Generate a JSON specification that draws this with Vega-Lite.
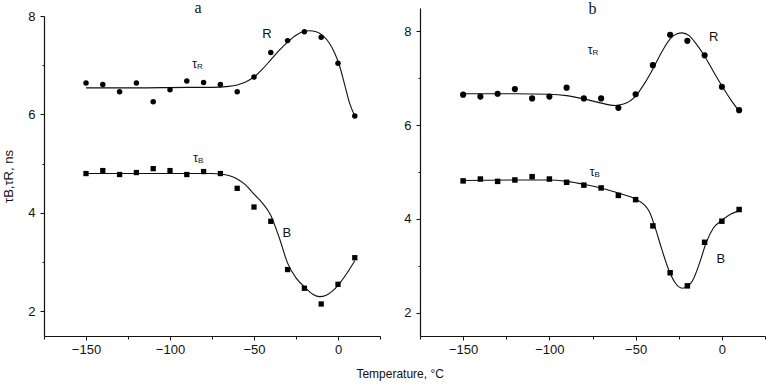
{
  "$schema": "https://vega.github.io/schema/vega-lite/v6.json",
  "padding": {"left": 2, "top": 0, "right": 5, "bottom": 2},
  "background": "white",
  "spacing": 22,
  "config": {
    "view": {"stroke": null},
    "font": "Liberation Sans",
    "axis": {
      "grid": false,
      "domainColor": "#111",
      "domainWidth": 1.2,
      "tickColor": "#111",
      "tickWidth": 1,
      "labelColor": "#111",
      "labelFont": "Liberation Sans",
      "labelFontSize": 13,
      "titleFont": "Liberation Sans",
      "titleFontWeight": "normal",
      "titleColor": "#111",
      "titleFontSize": 12
    },
    "title": {"font": "Liberation Serif", "fontSize": 16, "fontWeight": "normal", "color": "#111"}
  },
  "title": {"text": "Temperature, °C", "orient": "bottom", "anchor": "middle", "offset": 13, "dx": 16, "font": "Liberation Sans", "fontSize": 12, "fontWeight": "normal", "color": "#111"},
  "datasets": {
    "points": [
      {"panel": "a", "series": "R", "T": -150, "v": 6.64},
      {"panel": "a", "series": "R", "T": -140, "v": 6.61},
      {"panel": "a", "series": "R", "T": -130, "v": 6.46},
      {"panel": "a", "series": "R", "T": -120, "v": 6.64},
      {"panel": "a", "series": "R", "T": -110, "v": 6.26},
      {"panel": "a", "series": "R", "T": -100, "v": 6.5},
      {"panel": "a", "series": "R", "T": -90, "v": 6.68},
      {"panel": "a", "series": "R", "T": -80, "v": 6.65},
      {"panel": "a", "series": "R", "T": -70, "v": 6.61},
      {"panel": "a", "series": "R", "T": -60, "v": 6.46},
      {"panel": "a", "series": "R", "T": -50, "v": 6.76},
      {"panel": "a", "series": "R", "T": -40, "v": 7.26},
      {"panel": "a", "series": "R", "T": -30, "v": 7.5},
      {"panel": "a", "series": "R", "T": -20, "v": 7.68},
      {"panel": "a", "series": "R", "T": -10, "v": 7.57},
      {"panel": "a", "series": "R", "T": 0, "v": 7.04},
      {"panel": "a", "series": "R", "T": 10, "v": 5.97},
      {"panel": "a", "series": "B", "T": -150, "v": 4.8},
      {"panel": "a", "series": "B", "T": -140, "v": 4.86},
      {"panel": "a", "series": "B", "T": -130, "v": 4.78},
      {"panel": "a", "series": "B", "T": -120, "v": 4.82},
      {"panel": "a", "series": "B", "T": -110, "v": 4.9},
      {"panel": "a", "series": "B", "T": -100, "v": 4.86},
      {"panel": "a", "series": "B", "T": -90, "v": 4.78},
      {"panel": "a", "series": "B", "T": -80, "v": 4.84},
      {"panel": "a", "series": "B", "T": -70, "v": 4.8},
      {"panel": "a", "series": "B", "T": -60, "v": 4.5},
      {"panel": "a", "series": "B", "T": -50, "v": 4.12},
      {"panel": "a", "series": "B", "T": -40, "v": 3.83},
      {"panel": "a", "series": "B", "T": -30, "v": 2.85},
      {"panel": "a", "series": "B", "T": -20, "v": 2.47},
      {"panel": "a", "series": "B", "T": -10, "v": 2.15},
      {"panel": "a", "series": "B", "T": 0, "v": 2.55},
      {"panel": "a", "series": "B", "T": 10, "v": 3.09},
      {"panel": "b", "series": "R", "T": -150, "v": 6.65},
      {"panel": "b", "series": "R", "T": -140, "v": 6.61},
      {"panel": "b", "series": "R", "T": -130, "v": 6.67},
      {"panel": "b", "series": "R", "T": -120, "v": 6.77},
      {"panel": "b", "series": "R", "T": -110, "v": 6.57},
      {"panel": "b", "series": "R", "T": -100, "v": 6.61},
      {"panel": "b", "series": "R", "T": -90, "v": 6.8},
      {"panel": "b", "series": "R", "T": -80, "v": 6.57},
      {"panel": "b", "series": "R", "T": -70, "v": 6.57},
      {"panel": "b", "series": "R", "T": -60, "v": 6.37},
      {"panel": "b", "series": "R", "T": -50, "v": 6.66},
      {"panel": "b", "series": "R", "T": -40, "v": 7.28},
      {"panel": "b", "series": "R", "T": -30, "v": 7.93},
      {"panel": "b", "series": "R", "T": -20, "v": 7.8},
      {"panel": "b", "series": "R", "T": -10, "v": 7.49},
      {"panel": "b", "series": "R", "T": 0, "v": 6.82},
      {"panel": "b", "series": "R", "T": 10, "v": 6.32},
      {"panel": "b", "series": "B", "T": -150, "v": 4.81},
      {"panel": "b", "series": "B", "T": -140, "v": 4.85},
      {"panel": "b", "series": "B", "T": -130, "v": 4.8},
      {"panel": "b", "series": "B", "T": -120, "v": 4.83},
      {"panel": "b", "series": "B", "T": -110, "v": 4.9},
      {"panel": "b", "series": "B", "T": -100, "v": 4.85},
      {"panel": "b", "series": "B", "T": -90, "v": 4.78},
      {"panel": "b", "series": "B", "T": -80, "v": 4.72},
      {"panel": "b", "series": "B", "T": -70, "v": 4.66},
      {"panel": "b", "series": "B", "T": -60, "v": 4.5},
      {"panel": "b", "series": "B", "T": -50, "v": 4.41},
      {"panel": "b", "series": "B", "T": -40, "v": 3.85},
      {"panel": "b", "series": "B", "T": -30, "v": 2.85},
      {"panel": "b", "series": "B", "T": -20, "v": 2.57},
      {"panel": "b", "series": "B", "T": -10, "v": 3.5},
      {"panel": "b", "series": "B", "T": 0, "v": 3.95},
      {"panel": "b", "series": "B", "T": 10, "v": 4.2}
    ],
    "curves": [
      {"panel": "a", "series": "R", "T": -150, "v": 6.54},
      {"panel": "a", "series": "R", "T": -120, "v": 6.54},
      {"panel": "a", "series": "R", "T": -90, "v": 6.55},
      {"panel": "a", "series": "R", "T": -75, "v": 6.55},
      {"panel": "a", "series": "R", "T": -65, "v": 6.57},
      {"panel": "a", "series": "R", "T": -60, "v": 6.6},
      {"panel": "a", "series": "R", "T": -55, "v": 6.66},
      {"panel": "a", "series": "R", "T": -50, "v": 6.76},
      {"panel": "a", "series": "R", "T": -45, "v": 6.92},
      {"panel": "a", "series": "R", "T": -40, "v": 7.11},
      {"panel": "a", "series": "R", "T": -35, "v": 7.3},
      {"panel": "a", "series": "R", "T": -30, "v": 7.47},
      {"panel": "a", "series": "R", "T": -25, "v": 7.61},
      {"panel": "a", "series": "R", "T": -20, "v": 7.69},
      {"panel": "a", "series": "R", "T": -17, "v": 7.7},
      {"panel": "a", "series": "R", "T": -13, "v": 7.68},
      {"panel": "a", "series": "R", "T": -9, "v": 7.6},
      {"panel": "a", "series": "R", "T": -5, "v": 7.44},
      {"panel": "a", "series": "R", "T": -2, "v": 7.25},
      {"panel": "a", "series": "R", "T": 1, "v": 6.98},
      {"panel": "a", "series": "R", "T": 4, "v": 6.6},
      {"panel": "a", "series": "R", "T": 7, "v": 6.22},
      {"panel": "a", "series": "R", "T": 10, "v": 5.97},
      {"panel": "a", "series": "B", "T": -150, "v": 4.8},
      {"panel": "a", "series": "B", "T": -120, "v": 4.8},
      {"panel": "a", "series": "B", "T": -90, "v": 4.8},
      {"panel": "a", "series": "B", "T": -75, "v": 4.8},
      {"panel": "a", "series": "B", "T": -70, "v": 4.79},
      {"panel": "a", "series": "B", "T": -65, "v": 4.76},
      {"panel": "a", "series": "B", "T": -60, "v": 4.69},
      {"panel": "a", "series": "B", "T": -55, "v": 4.57},
      {"panel": "a", "series": "B", "T": -50, "v": 4.38},
      {"panel": "a", "series": "B", "T": -45, "v": 4.2},
      {"panel": "a", "series": "B", "T": -40, "v": 3.95},
      {"panel": "a", "series": "B", "T": -35, "v": 3.5},
      {"panel": "a", "series": "B", "T": -30, "v": 2.98},
      {"panel": "a", "series": "B", "T": -25, "v": 2.68},
      {"panel": "a", "series": "B", "T": -20, "v": 2.5},
      {"panel": "a", "series": "B", "T": -15, "v": 2.35},
      {"panel": "a", "series": "B", "T": -11, "v": 2.3},
      {"panel": "a", "series": "B", "T": -7, "v": 2.33},
      {"panel": "a", "series": "B", "T": -3, "v": 2.42},
      {"panel": "a", "series": "B", "T": 0, "v": 2.53},
      {"panel": "a", "series": "B", "T": 5, "v": 2.76},
      {"panel": "a", "series": "B", "T": 10, "v": 3.03},
      {"panel": "b", "series": "R", "T": -150, "v": 6.67},
      {"panel": "b", "series": "R", "T": -120, "v": 6.67},
      {"panel": "b", "series": "R", "T": -100, "v": 6.66},
      {"panel": "b", "series": "R", "T": -90, "v": 6.63},
      {"panel": "b", "series": "R", "T": -80, "v": 6.56},
      {"panel": "b", "series": "R", "T": -70, "v": 6.47},
      {"panel": "b", "series": "R", "T": -62, "v": 6.42},
      {"panel": "b", "series": "R", "T": -57, "v": 6.45},
      {"panel": "b", "series": "R", "T": -50, "v": 6.62},
      {"panel": "b", "series": "R", "T": -45, "v": 6.88},
      {"panel": "b", "series": "R", "T": -40, "v": 7.2},
      {"panel": "b", "series": "R", "T": -35, "v": 7.55},
      {"panel": "b", "series": "R", "T": -30, "v": 7.84},
      {"panel": "b", "series": "R", "T": -26, "v": 7.95},
      {"panel": "b", "series": "R", "T": -23, "v": 7.97},
      {"panel": "b", "series": "R", "T": -19, "v": 7.91},
      {"panel": "b", "series": "R", "T": -15, "v": 7.74},
      {"panel": "b", "series": "R", "T": -10, "v": 7.47},
      {"panel": "b", "series": "R", "T": -5, "v": 7.15},
      {"panel": "b", "series": "R", "T": 0, "v": 6.84},
      {"panel": "b", "series": "R", "T": 5, "v": 6.55},
      {"panel": "b", "series": "R", "T": 10, "v": 6.3},
      {"panel": "b", "series": "B", "T": -150, "v": 4.82},
      {"panel": "b", "series": "B", "T": -120, "v": 4.83},
      {"panel": "b", "series": "B", "T": -100, "v": 4.83},
      {"panel": "b", "series": "B", "T": -90, "v": 4.8},
      {"panel": "b", "series": "B", "T": -80, "v": 4.74},
      {"panel": "b", "series": "B", "T": -70, "v": 4.66},
      {"panel": "b", "series": "B", "T": -60, "v": 4.55},
      {"panel": "b", "series": "B", "T": -50, "v": 4.42},
      {"panel": "b", "series": "B", "T": -45, "v": 4.3},
      {"panel": "b", "series": "B", "T": -42, "v": 4.15},
      {"panel": "b", "series": "B", "T": -39, "v": 3.85},
      {"panel": "b", "series": "B", "T": -35, "v": 3.37},
      {"panel": "b", "series": "B", "T": -31, "v": 2.93},
      {"panel": "b", "series": "B", "T": -27, "v": 2.63},
      {"panel": "b", "series": "B", "T": -23, "v": 2.52},
      {"panel": "b", "series": "B", "T": -20, "v": 2.56},
      {"panel": "b", "series": "B", "T": -17, "v": 2.68},
      {"panel": "b", "series": "B", "T": -13, "v": 3.05},
      {"panel": "b", "series": "B", "T": -9, "v": 3.5},
      {"panel": "b", "series": "B", "T": -5, "v": 3.8},
      {"panel": "b", "series": "B", "T": 0, "v": 3.97},
      {"panel": "b", "series": "B", "T": 5, "v": 4.1},
      {"panel": "b", "series": "B", "T": 10, "v": 4.17}
    ],
    "labels": [
      {"panel": "a", "T": -42.3, "v": 7.64, "text": "R"},
      {"panel": "a", "T": -30.4, "v": 3.6, "text": "B"},
      {"panel": "b", "T": -4.7, "v": 7.88, "text": "R"},
      {"panel": "b", "T": -0.6, "v": 3.15, "text": "B"}
    ],
    "taus": [
      {"panel": "a", "T": -84, "v": 7.02, "text": "τ", "sub": "R"},
      {"panel": "a", "T": -83.3, "v": 5.11, "text": "τ", "sub": "B"},
      {"panel": "b", "T": -75, "v": 7.61, "text": "τ", "sub": "R"},
      {"panel": "b", "T": -73.8, "v": 5.0, "text": "τ", "sub": "B"}
    ]
  },
  "hconcat": [
    {
      "width": 336,
      "height": 328,
      "title": {"text": "a", "offset": 0, "dy": 8, "dx": -14, "anchor": "middle"},
      "encoding": {
        "x": {"field": "T", "type": "quantitative", "scale": {"domain": [-175, 25], "nice": false, "zero": false},
          "axis": {"title": null, "values": [-175, -150, -125, -100, -75, -50, -25, 0, 25], "labelExpr": "datum.value % 50 === 0 ? datum.label : ''", "tickSize": {"condition": {"test": "datum.value % 50 === 0", "value": 4}, "value": 3}, "labelPadding": 3}},
        "y": {"field": "v", "type": "quantitative", "scale": {"domain": [1.5, 8], "range": [328, 8], "nice": false, "zero": false},
          "axis": {"title": "τB,τR, ns", "titleFontSize": 13, "titlePadding": 12, "values": [2, 3, 4, 5, 6, 7, 8], "labelExpr": "datum.value % 2 === 0 ? datum.label : ''", "tickSize": {"condition": {"test": "datum.value % 2 === 0", "value": 4}, "value": 2}, "labelPadding": 5}}
      },
      "layer": [
        {"data": {"name": "curves"}, "transform": [{"filter": "datum.panel === 'a' && datum.series === 'R'"}], "mark": {"type": "line", "color": "#111", "strokeWidth": 1.1, "interpolate": "monotone"}},
        {"data": {"name": "curves"}, "transform": [{"filter": "datum.panel === 'a' && datum.series === 'B'"}], "mark": {"type": "line", "color": "#111", "strokeWidth": 1.1, "interpolate": "monotone"}},
        {"data": {"name": "points"}, "transform": [{"filter": "datum.panel === 'a' && datum.series === 'R'"}], "mark": {"type": "point", "shape": "circle", "filled": true, "color": "#000", "opacity": 1, "size": 30}},
        {"data": {"name": "points"}, "transform": [{"filter": "datum.panel === 'a' && datum.series === 'B'"}], "mark": {"type": "point", "shape": "square", "filled": true, "color": "#000", "opacity": 1, "size": 28}},
        {"data": {"name": "labels"}, "transform": [{"filter": "datum.panel === 'a'"}], "mark": {"type": "text", "fontSize": 13, "color": "#111", "align": "center", "baseline": "middle"}, "encoding": {"text": {"field": "text"}}},
        {"data": {"name": "taus"}, "transform": [{"filter": "datum.panel === 'a'"}], "mark": {"type": "text", "fontSize": 12, "color": "#111", "align": "right", "baseline": "middle"}, "encoding": {"text": {"field": "text"}}},
        {"data": {"name": "taus"}, "transform": [{"filter": "datum.panel === 'a'"}], "mark": {"type": "text", "fontSize": 8, "color": "#111", "align": "left", "baseline": "middle", "dy": 3}, "encoding": {"text": {"field": "sub"}}}
      ]
    },
    {
      "width": 345,
      "height": 328,
      "title": {"text": "b", "offset": 0, "dy": 9, "anchor": "middle"},
      "encoding": {
        "x": {"field": "T", "type": "quantitative", "scale": {"domain": [-175, 25], "nice": false, "zero": false},
          "axis": {"title": null, "values": [-175, -150, -125, -100, -75, -50, -25, 0, 25], "labelExpr": "datum.value % 50 === 0 ? datum.label : ''", "tickSize": {"condition": {"test": "datum.value % 50 === 0", "value": 4}, "value": 3}, "labelPadding": 3}},
        "y": {"field": "v", "type": "quantitative", "scale": {"domain": [1.5, 8.5], "nice": false, "zero": false},
          "axis": {"title": null, "values": [2, 3, 4, 5, 6, 7, 8], "labelExpr": "datum.value % 2 === 0 ? datum.label : ''", "tickSize": {"condition": {"test": "datum.value % 2 === 0", "value": 4}, "value": 2}, "labelPadding": 5}}
      },
      "layer": [
        {"data": {"name": "curves"}, "transform": [{"filter": "datum.panel === 'b' && datum.series === 'R'"}], "mark": {"type": "line", "color": "#111", "strokeWidth": 1.1, "interpolate": "monotone"}},
        {"data": {"name": "curves"}, "transform": [{"filter": "datum.panel === 'b' && datum.series === 'B'"}], "mark": {"type": "line", "color": "#111", "strokeWidth": 1.1, "interpolate": "monotone"}},
        {"data": {"name": "points"}, "transform": [{"filter": "datum.panel === 'b' && datum.series === 'R'"}], "mark": {"type": "point", "shape": "circle", "filled": true, "color": "#000", "opacity": 1, "size": 38}},
        {"data": {"name": "points"}, "transform": [{"filter": "datum.panel === 'b' && datum.series === 'B'"}], "mark": {"type": "point", "shape": "square", "filled": true, "color": "#000", "opacity": 1, "size": 30}},
        {"data": {"name": "labels"}, "transform": [{"filter": "datum.panel === 'b'"}], "mark": {"type": "text", "fontSize": 13, "color": "#111", "align": "center", "baseline": "middle"}, "encoding": {"text": {"field": "text"}}},
        {"data": {"name": "taus"}, "transform": [{"filter": "datum.panel === 'b'"}], "mark": {"type": "text", "fontSize": 12, "color": "#111", "align": "right", "baseline": "middle"}, "encoding": {"text": {"field": "text"}}},
        {"data": {"name": "taus"}, "transform": [{"filter": "datum.panel === 'b'"}], "mark": {"type": "text", "fontSize": 8, "color": "#111", "align": "left", "baseline": "middle", "dy": 3}, "encoding": {"text": {"field": "sub"}}}
      ]
    }
  ]
}
